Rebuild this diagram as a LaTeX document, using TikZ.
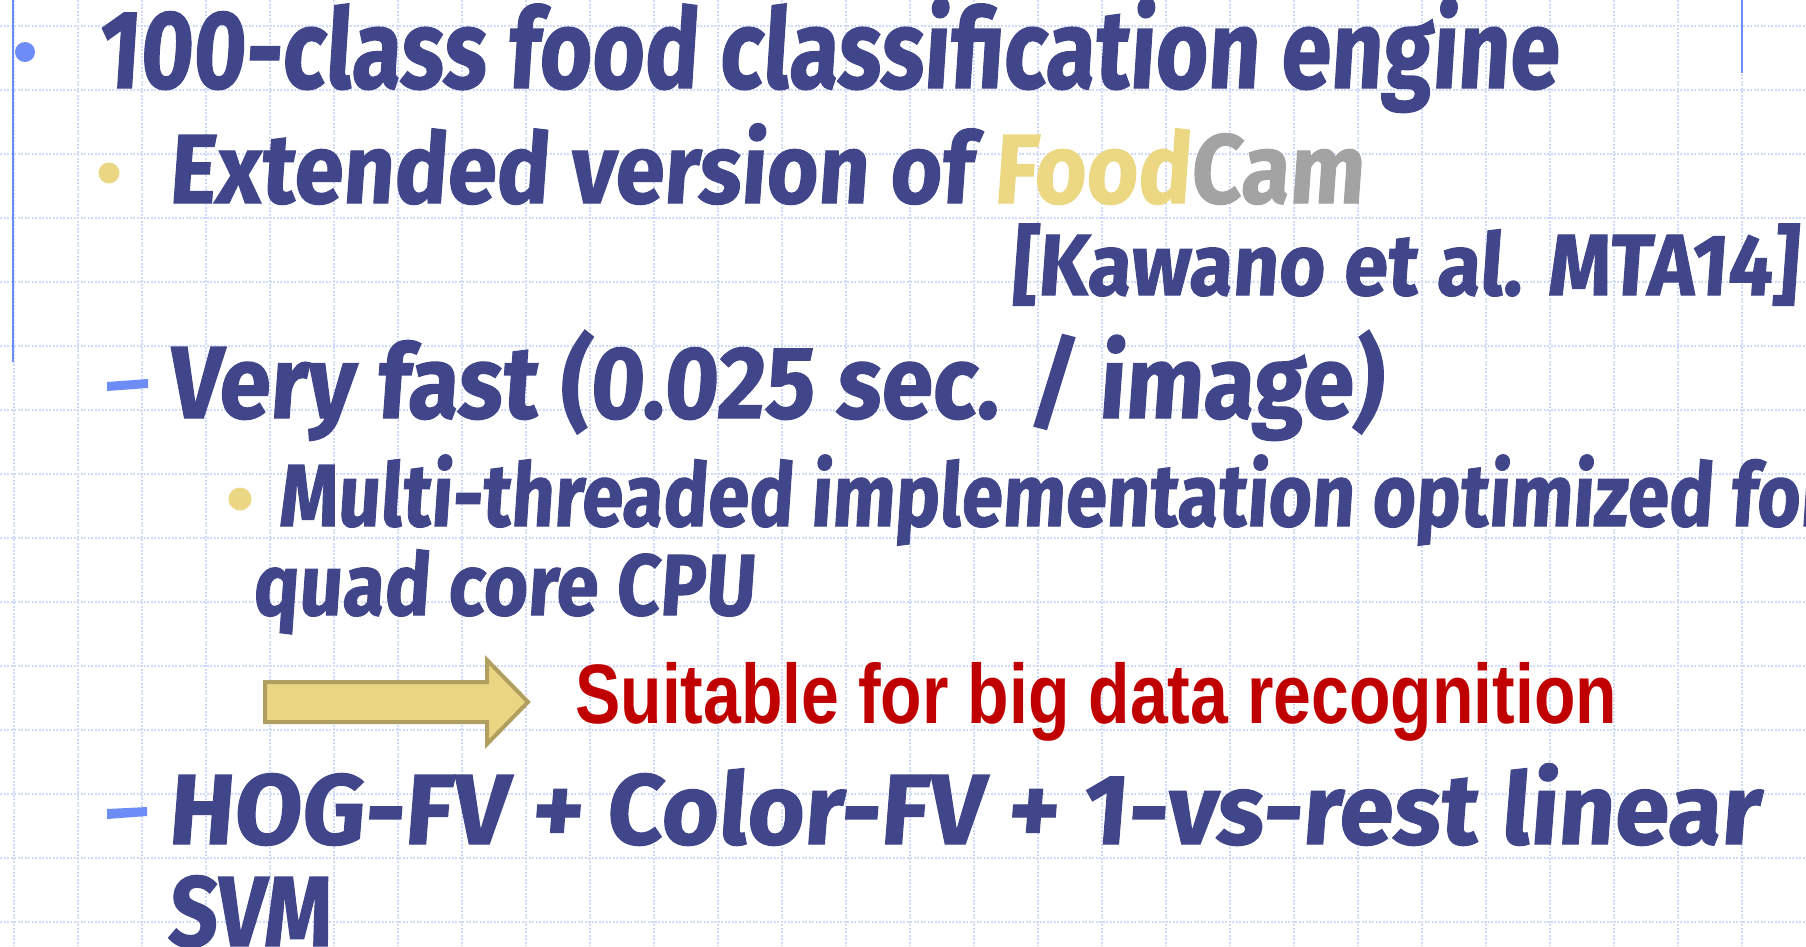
\documentclass[tikz,border=0pt]{standalone}
\usepackage{fontspec}
\usepackage{graphicx}
\newfontfamily\popfont{Fira Sans}[FakeSlant=0.08,FakeBold=1.2]
\newfontfamily\gothfont{Liberation Sans}
\definecolor{txtblue}{RGB}{65,70,138}
\definecolor{bulblue}{RGB}{110,140,245}
\definecolor{bulyel}{RGB}{234,214,131}
\definecolor{foodyel}{RGB}{236,216,130}
\definecolor{camgray}{RGB}{163,163,163}
\definecolor{gridc}{RGB}{208,219,250}
\definecolor{arrowfill}{RGB}{234,213,131}
\definecolor{arrowedge}{RGB}{176,159,94}
\definecolor{redtxt}{RGB}{192,0,0}
% scale #3 so that it is #1 wide and its capitals #2 high; #4 follows at the same scale
\newcommand\fitpart[4]{%
  \setbox0\hbox{#3}%
  \edef\fitw{\the\wd0}%
  \edef\fith{\the\fontcharht\font`H}%
  \pgfmathsetmacro\fitxs{#1/\fitw}%
  \pgfmathsetmacro\fitys{#2/\fith}%
  \scalebox{\fitxs}[\fitys]{#3#4}}
\begin{document}
\begin{tikzpicture}[x=1pt,y=-1pt,
  gridline/.style={draw=gridc,line width=1.1pt,dash pattern=on 2pt off 1.5pt},
  vline/.style={draw=bulblue,line width=2pt},
  txt/.style={anchor=base west,inner sep=0pt,text=txtblue,
    font=\popfont\bfseries\fontsize{60}{72}\selectfont},
  redline/.style={anchor=base west,inner sep=0pt,text=redtxt,
    font=\gothfont\bfseries\fontsize{60}{72}\selectfont},
  dotblue/.style={circle,fill=bulblue,inner sep=0pt,minimum size=20pt},
  dotyel/.style={circle,fill=bulyel,inner sep=0pt,minimum size=21pt},
  dashbul/.style={fill=bulblue},
  bigarrow/.style={fill=arrowfill,draw=arrowedge,line width=4pt,line join=miter}]
\useasboundingbox (0,0) rectangle (1806,946);
\fill[white] (0,0) rectangle (1806,946);
\clip (0,0) rectangle (1806,946);
% grid
\foreach \k in {0,...,27} \draw[gridline] (14+64*\k,0) -- (14+64*\k,946);
\foreach \k in {0,...,14} \draw[gridline] (0,26+64*\k) -- (1806,26+64*\k);
% margin rules
\draw[vline] (13,0) -- (13,362);
\draw[vline] (1742,0) -- (1742,73);
% bullets
\node[dotblue] (b1) at (25,52) {};
\node[dotyel] (b2) at (109,173) {};
\fill[dashbul] (107,382) -- (148,379) -- (148,388) -- (107,391) -- cycle;
\node[dotyel,minimum size=23pt] (b5) at (240,499) {};
\fill[dashbul] (107,809) -- (147,807) -- (147,816) -- (107,819) -- cycle;
% texts
\node[txt] (t1) at (97,88) {\fitpart{1461}{77}{100-class food classification engine}{}};
\node[txt] (t2) at (168,203) {\fitpart{1195}{68}{Extended version of \textcolor{foodyel}{Food}\textcolor{camgray}{Cam}}{}};
\node[txt] (t3) at (1011,295) {\fitpart{786}{60}{[Kawano et al. MTA14]}{}};
\node[txt] (t4) at (167,418) {\fitpart{1215}{71}{Very fast (0.025 sec. / image)}{}};
\node[txt] (t5) at (278,526) {\fitpart{1434}{61}{Multi-threaded implementation optimized}{ for}};
\node[txt] (t6) at (252,615) {\fitpart{502}{60}{quad core CPU}{}};
% arrow
\draw[bigarrow] (265,682) -- (487,682) -- (487,660) -- (528,702) -- (487,744) -- (487,722) -- (265,722) -- cycle;
\node[redline] (t7) at (575,723) {\fitpart{1042}{58}{Suitable for big data recognition}{}};
\node[txt] (t8) at (167,844) {\fitpart{1592}{69}{HOG-FV + Color-FV + 1-vs-rest linear}{}};
\node[txt] (t9) at (167,946) {\fitpart{163}{69}{SVM}{}};
\end{tikzpicture}
\end{document}
